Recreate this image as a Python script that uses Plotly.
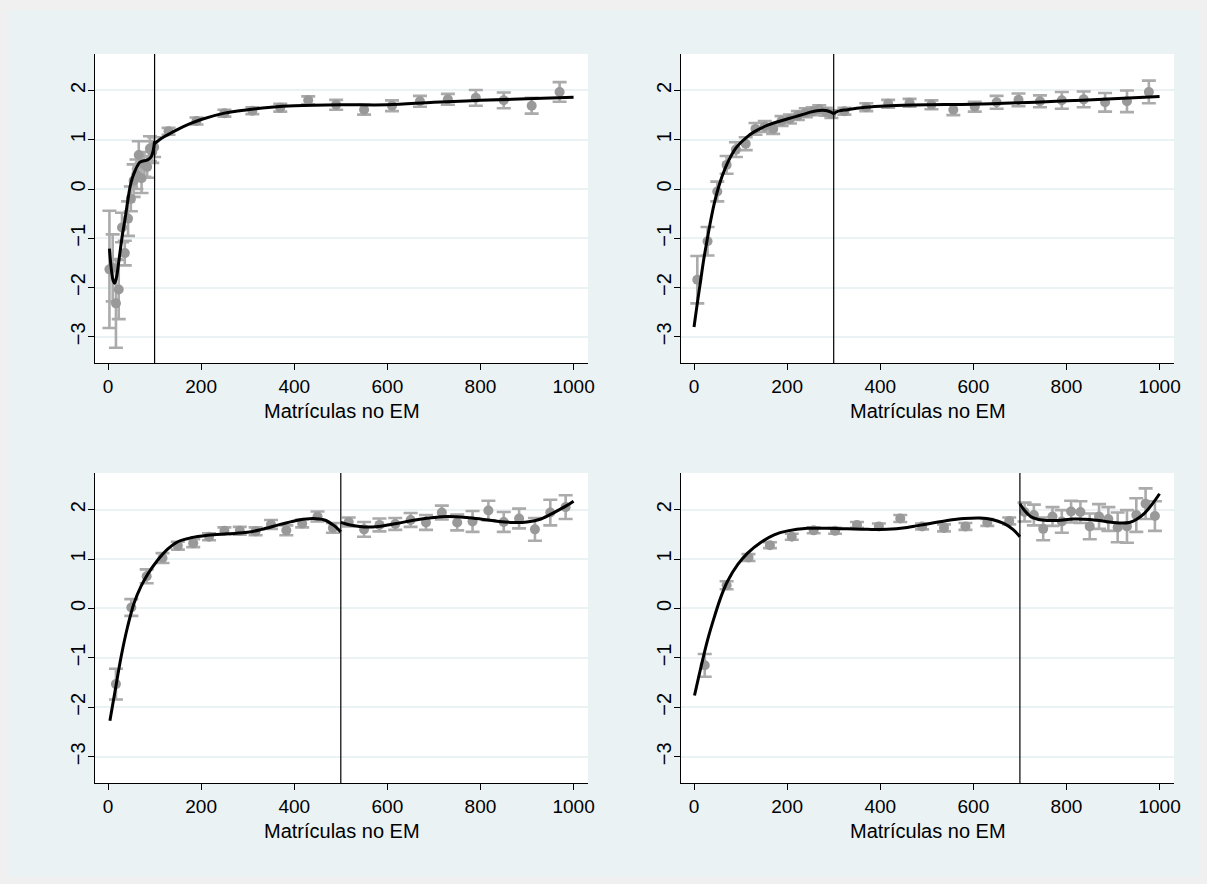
import plotly.graph_objects as go

W, H = 1207, 884

# ---------------- data ----------------
cutoffs = [100, 300, 500, 700]

# Panel 1 (cutoff 100)
p1_bin_x = [3, 10, 17, 23, 30, 36, 43, 49, 55, 61, 66, 72, 78, 84, 90, 95, 99,
            130, 190, 250, 310, 370, 430, 490, 550, 610, 670, 730, 790, 850, 910, 970]
p1_bin_y = [-1.63, -1.60, -2.32, -2.04, -0.78, -1.30, -0.60, -0.20, 0.17, 0.30, 0.69, 0.22, 0.50, 0.45, 0.82, 0.75, 0.85,
            1.17, 1.38, 1.54, 1.59, 1.65, 1.80, 1.71, 1.61, 1.69, 1.78, 1.82, 1.85, 1.80, 1.69, 1.97]
p1_bin_e = [1.19, 0.68, 0.90, 0.60, 0.30, 0.25, 0.35, 0.25, 0.33, 0.30, 0.28, 0.30, 0.25, 0.22, 0.25, 0.22, 0.20,
            0.07, 0.07, 0.07, 0.07, 0.08, 0.08, 0.10, 0.10, 0.11, 0.11, 0.11, 0.16, 0.16, 0.16, 0.20]
p1_fitL_x = [3, 7, 11, 14, 18, 22, 26, 31, 37, 42, 47, 52, 58, 63, 68, 75, 82, 88, 93, 97, 100]
p1_fitL_y = [-1.21, -1.62, -1.86, -1.91, -1.80, -1.55, -1.26, -0.92, -0.58, -0.26, 0.03, 0.22, 0.37, 0.47, 0.54,
             0.57, 0.58, 0.61, 0.66, 0.78, 0.97]
p1_fitR_x = [100, 115, 130, 150, 175, 200, 250, 300, 350, 400, 500, 600, 700, 800, 900, 1000]
p1_fitR_y = [0.92, 1.03, 1.11, 1.21, 1.32, 1.41, 1.54, 1.61, 1.66, 1.69, 1.71, 1.71, 1.76, 1.80, 1.83, 1.86]

# Panel 2 (cutoff 300)
p2_bin_x = [7, 29, 50, 70, 90, 111, 132, 152, 170, 188, 206, 223, 240, 255, 269, 283, 295,
            323, 370, 417, 463, 510, 557, 603, 650, 697, 743, 790, 837, 883, 930, 977]
p2_bin_y = [-1.84, -1.06, -0.05, 0.49, 0.80, 0.92, 1.22, 1.27, 1.22, 1.38, 1.42, 1.49, 1.55, 1.58, 1.62, 1.57, 1.52,
            1.58, 1.66, 1.73, 1.75, 1.71, 1.61, 1.67, 1.76, 1.81, 1.78, 1.80, 1.82, 1.76, 1.78, 1.97]
p2_bin_e = [0.48, 0.29, 0.20, 0.18, 0.15, 0.13, 0.12, 0.11, 0.10, 0.10, 0.09, 0.09, 0.09, 0.08, 0.08, 0.08, 0.08,
            0.07, 0.08, 0.08, 0.08, 0.09, 0.11, 0.10, 0.13, 0.13, 0.12, 0.17, 0.16, 0.19, 0.22, 0.23]
p2_fitL_x = [0, 7, 14, 21, 29, 36, 43, 50, 57, 64, 71, 80, 89, 98, 107, 118, 129, 143, 157, 178, 200, 218, 236,
             250, 264, 276, 286, 294, 300]
p2_fitL_y = [-2.80, -2.32, -1.87, -1.42, -0.99, -0.63, -0.31, -0.05, 0.17, 0.35, 0.51, 0.68, 0.82, 0.92, 1.00,
             1.09, 1.16, 1.23, 1.29, 1.36, 1.42, 1.47, 1.52, 1.56, 1.59, 1.60, 1.59, 1.56, 1.53]
p2_fitR_x = [300, 310, 330, 360, 400, 450, 500, 600, 700, 800, 900, 1000]
p2_fitR_y = [1.53, 1.58, 1.61, 1.65, 1.68, 1.70, 1.71, 1.72, 1.75, 1.79, 1.83, 1.88]

# Panel 3 (cutoff 500)
p3_bin_x = [17, 50, 83, 117, 150, 183, 217, 250, 283, 317, 350, 383, 417, 450, 483,
            517, 550, 583, 617, 650, 683, 717, 750, 783, 817, 850, 883, 917, 950, 983]
p3_bin_y = [-1.53, 0.02, 0.65, 1.02, 1.27, 1.32, 1.45, 1.57, 1.57, 1.56, 1.70, 1.58, 1.72, 1.86, 1.63,
            1.75, 1.60, 1.69, 1.71, 1.79, 1.74, 1.94, 1.74, 1.76, 1.98, 1.75, 1.82, 1.60, 1.94, 2.05]
p3_bin_e = [0.31, 0.17, 0.14, 0.10, 0.08, 0.08, 0.07, 0.07, 0.08, 0.08, 0.09, 0.10, 0.08, 0.10, 0.10,
            0.09, 0.15, 0.13, 0.12, 0.14, 0.15, 0.14, 0.16, 0.21, 0.20, 0.20, 0.20, 0.23, 0.26, 0.24]
p3_fitL_x = [4, 14, 28, 42, 56, 71, 85, 106, 128, 150, 178, 214, 256, 300, 330, 370, 410, 440, 465, 485, 500]
p3_fitL_y = [-2.27, -1.73, -0.98, -0.37, 0.11, 0.45, 0.69, 0.97, 1.20, 1.35, 1.43, 1.48, 1.51, 1.54, 1.60,
             1.70, 1.79, 1.82, 1.79, 1.68, 1.55]
p3_fitR_x = [500, 520, 550, 580, 620, 660, 700, 730, 770, 800, 840, 870, 900, 930, 960, 985, 1000]
p3_fitR_y = [1.74, 1.69, 1.65, 1.66, 1.72, 1.79, 1.84, 1.86, 1.84, 1.81, 1.76, 1.74, 1.75, 1.81, 1.95, 2.08, 2.17]

# Panel 4 (cutoff 700)
p4_bin_x = [23, 70, 117, 163, 210, 257, 303, 350, 397, 443, 490, 537, 583, 630, 677,
            710, 730, 750, 770, 790, 810, 830, 850, 870, 890, 910, 930, 950, 970, 990]
p4_bin_y = [-1.15, 0.47, 1.03, 1.28, 1.45, 1.58, 1.57, 1.69, 1.66, 1.82, 1.66, 1.63, 1.66, 1.74, 1.77,
            1.95, 1.89, 1.61, 1.86, 1.76, 1.96, 1.95, 1.66, 1.86, 1.81, 1.64, 1.66, 1.89, 2.12, 1.87]
p4_bin_e = [0.23, 0.08, 0.07, 0.06, 0.06, 0.06, 0.06, 0.06, 0.06, 0.07, 0.06, 0.07, 0.07, 0.07, 0.07,
            0.19, 0.21, 0.23, 0.19, 0.23, 0.22, 0.22, 0.26, 0.25, 0.24, 0.30, 0.33, 0.34, 0.31, 0.30]
p4_fitL_x = [1, 15, 29, 44, 58, 72, 94, 115, 144, 172, 201, 244, 286, 329, 372, 415, 458, 501, 544, 580,
             615, 640, 665, 685, 700]
p4_fitL_y = [-1.76, -1.18, -0.64, -0.16, 0.24, 0.55, 0.89, 1.12, 1.34, 1.49, 1.57, 1.62, 1.62, 1.61, 1.60,
             1.60, 1.64, 1.71, 1.78, 1.82, 1.83, 1.80, 1.72, 1.60, 1.45]
p4_fitR_x = [700, 710, 723, 740, 760, 782, 816, 850, 884, 917, 935, 950, 968, 985, 1000]
p4_fitR_y = [2.12, 1.98, 1.86, 1.80, 1.78, 1.78, 1.81, 1.80, 1.76, 1.73, 1.74, 1.80, 1.93, 2.12, 2.32]

x_ticks = [0, 200, 400, 600, 800, 1000]
y_ticks = [-3, -2, -1, 0, 1, 2]
x_title = "Matrículas no EM"

panels = [
    (p1_bin_x, p1_bin_y, p1_bin_e, p1_fitL_x, p1_fitL_y, p1_fitR_x, p1_fitR_y),
    (p2_bin_x, p2_bin_y, p2_bin_e, p2_fitL_x, p2_fitL_y, p2_fitR_x, p2_fitR_y),
    (p3_bin_x, p3_bin_y, p3_bin_e, p3_fitL_x, p3_fitL_y, p3_fitR_x, p3_fitR_y),
    (p4_bin_x, p4_bin_y, p4_bin_e, p4_fitL_x, p4_fitL_y, p4_fitR_x, p4_fitR_y),
]

# ---------------- layout geometry (pixels) ----------------
col_px = [(95, 588), (681, 1174)]
row_px = [(54, 363), (473, 783)]
title_y_px = [411, 831]

FONT = "Liberation Sans, Arial, Helvetica, sans-serif"
MARK = "#999999"
BAR = "#ababab"

fig = go.Figure()
layout = dict(
    width=W, height=H,
    margin=dict(l=0, r=0, t=0, b=0),
    paper_bgcolor="#EAF2F3",
    plot_bgcolor="white",
    showlegend=False,
    font=dict(family=FONT, color="black"),
)
shapes = []
annotations = []

for i, (bx, by, be, flx, fly, frx, fry) in enumerate(panels):
    r, c = divmod(i, 2)
    n = i + 1
    xa = "x" if n == 1 else f"x{n}"
    ya = "y" if n == 1 else f"y{n}"
    x0, x1 = col_px[c]
    y0, y1 = row_px[r]
    layout[f"xaxis{'' if n == 1 else n}"] = dict(
        domain=[x0 / W, x1 / W], anchor=ya, range=[-28, 1031],
        tickvals=x_ticks, ticks="outside", ticklen=6, tickwidth=1, tickcolor="black",
        showline=True, linecolor="black", linewidth=1, showgrid=False, zeroline=False,
        tickfont=dict(size=19, family=FONT), automargin=False,
    )
    layout[f"yaxis{'' if n == 1 else n}"] = dict(
        domain=[1 - y1 / H, 1 - y0 / H], anchor=xa, range=[-3.53, 2.74],
        tickvals=y_ticks, ticks="outside", ticklen=6, tickwidth=1, tickcolor="black",
        showline=True, linecolor="black", linewidth=1, showgrid=True,
        gridcolor="#EAF2F3", gridwidth=1.5, zeroline=False, tickangle=-90,
        ticklabelstandoff=-5,
        tickfont=dict(size=20, family=FONT), automargin=False,
    )
    fig.add_trace(go.Scatter(
        x=bx, y=by, mode="markers", xaxis=xa, yaxis=ya,
        marker=dict(color=MARK, size=10),
        error_y=dict(type="data", array=be, visible=True, color=BAR, thickness=2.6, width=7),
    ))
    for fx, fy in ((flx, fly), (frx, fry)):
        fig.add_trace(go.Scatter(
            x=fx, y=fy, mode="lines", xaxis=xa, yaxis=ya,
            line=dict(color="black", width=3, shape="spline", smoothing=1.0),
        ))
    shapes.append(dict(type="line", xref=xa, yref=f"{ya} domain",
                       x0=cutoffs[i], x1=cutoffs[i], y0=0, y1=1,
                       line=dict(color="black", width=1.2)))
    annotations.append(dict(text=x_title, xref="paper", yref="paper",
                            x=(x0 + x1) / 2 / W, y=1 - title_y_px[r] / H,
                            xanchor="center", yanchor="middle", showarrow=False,
                            font=dict(size=20, family=FONT, color="black")))

# outer light-grey frame
frame = "#F0F0F0"
for (ax0, ay0, ax1, ay1) in [(0, 0, W, 10), (0, 877, W, H), (0, 0, 7, H), (1200, 0, W, H)]:
    shapes.append(dict(type="rect", xref="paper", yref="paper",
                       x0=ax0 / W, x1=ax1 / W, y0=1 - ay1 / H, y1=1 - ay0 / H,
                       fillcolor=frame, line=dict(width=0), layer="below"))

layout["shapes"] = shapes
layout["annotations"] = annotations
fig.update_layout(**layout)
fig.write_html("out.html")
